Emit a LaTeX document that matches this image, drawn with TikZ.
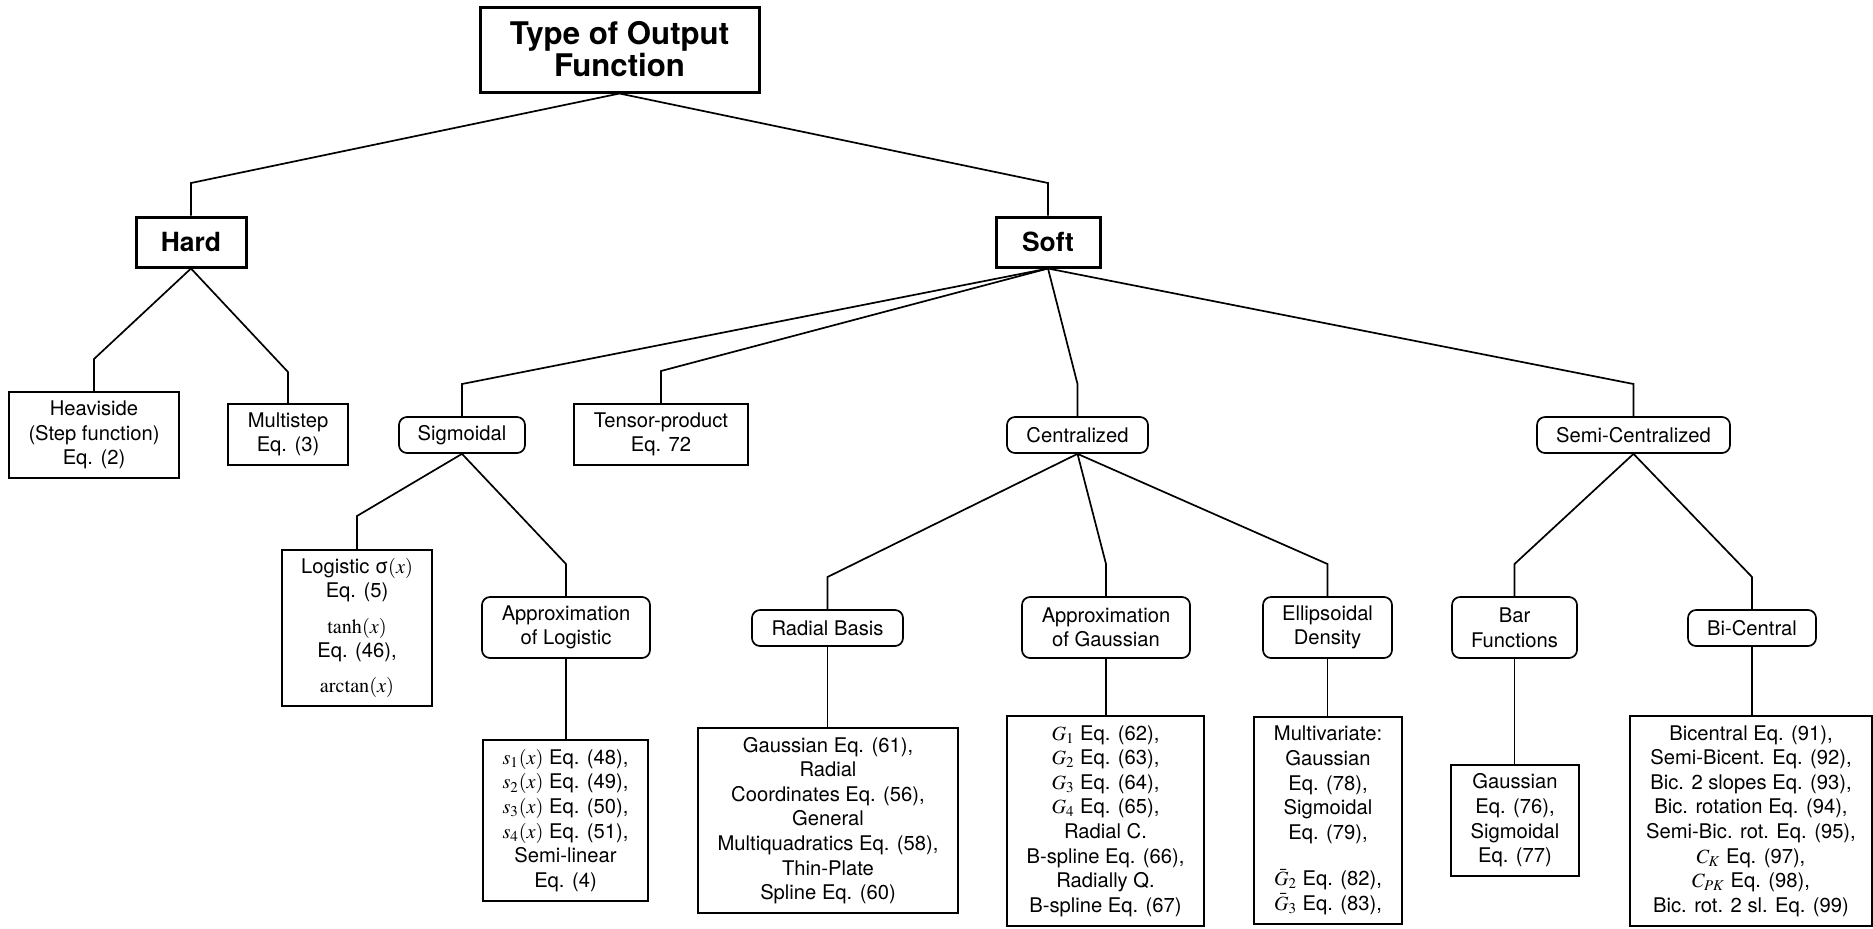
\documentclass[tikz,border=0pt]{standalone}
\usepackage{mathptmx}
\usepackage[no-math]{fontspec}
\setmainfont{TeX Gyre Heros}
\begin{document}
\begin{tikzpicture}[x=0.5pt,y=-0.5pt,
  conn/.style={line width=0.85pt},
  sq/.style={draw, line width=0.85pt, align=center, inner sep=2pt, font=\fontsize{10.1}{12.3}\selectfont},
  rnd/.style={sq, rounded corners=4pt},
  topbox/.style={draw, line width=1.5pt, align=center, inner sep=2pt, font=\fontsize{15.6}{15}\selectfont\bfseries},
  midbox/.style={draw, line width=1.5pt, inner sep=2pt, font=\fontsize{13.2}{15}\selectfont\bfseries}]
\useasboundingbox (0,0) rectangle (1873,928);

\node[topbox, minimum width=139.5pt, minimum height=42.5pt] (title) at (619.5,49.5) {Type of Output\\Function};
\node[midbox, minimum width=55pt, minimum height=25pt] (hard) at (191,242) {Hard};
\node[midbox, minimum width=52pt, minimum height=25pt] (soft) at (1048,242) {Soft};

\node[sq, minimum width=85pt, minimum height=43pt] (heav) at (94,435) {Heaviside\\(Step function)\\Eq. (2)};
\node[sq, minimum width=60pt, minimum height=30.5pt] (multi) at (288,434.5) {Multistep\\Eq. (3)};
\node[rnd, minimum width=63pt, minimum height=18pt] (sigm) at (462,435) {Sigmoidal};
\node[sq, minimum width=87pt, minimum height=30.5pt] (tensor) at (661,434.5) {Tensor-product\\Eq. 72};
\node[rnd, minimum width=70.5pt, minimum height=18pt] (central) at (1077.5,435) {Centralized};
\node[rnd, minimum width=96.5pt, minimum height=18pt] (semic) at (1633.5,435) {Semi-Centralized};

\node[sq, minimum width=75pt, minimum height=78pt] (logi) at (357,628) {Logistic σ$(x)$\\Eq. (5)\\[5.5pt]$\tanh(x)$\\Eq. (46),\\[5.2pt]$\arctan(x)$};
\node[rnd, minimum width=84pt, minimum height=30.5pt] (applog) at (566,627.5) {Approximation\\of Logistic};
\node[sq, minimum width=82.5pt, minimum height=80.5pt] (slist) at (565.5,820.5) {$s_1(x)$ Eq. (48),\\$s_2(x)$ Eq. (49),\\$s_3(x)$ Eq. (50),\\$s_4(x)$ Eq. (51),\\Semi-linear\\Eq. (4)};

\node[rnd, minimum width=75.5pt, minimum height=18pt] (radial) at (827.5,628) {Radial Basis};
\node[sq, minimum width=130pt, minimum height=92.5pt] (gausslist) at (828,820.5) {Gaussian Eq. (61),\\Radial\\Coordinates Eq. (56),\\General\\Multiquadratics Eq. (58),\\Thin-Plate\\Spline Eq. (60)};
\node[rnd, minimum width=84pt, minimum height=30.5pt] (appgau) at (1106,627.5) {Approximation\\of Gaussian};
\node[sq, minimum width=98.5pt, minimum height=105pt] (glist) at (1105.5,821) {$G_1$ Eq. (62),\\$G_2$ Eq. (63),\\$G_3$ Eq. (64),\\$G_4$ Eq. (65),\\Radial C.\\B-spline Eq. (66),\\Radially Q.\\B-spline Eq. (67)};
\node[rnd, minimum width=64.5pt, minimum height=30.5pt] (ellip) at (1327.5,627.5) {Ellipsoidal\\Density};
\node[sq, minimum width=74pt, minimum height=103.5pt] (mvlist) at (1328,820.5) {Multivariate:\\Gaussian\\Eq. (78),\\Sigmoidal\\Eq. (79),\\[11pt]$\bar{G}_2$ Eq. (82),\\$\bar{G}_3$ Eq. (83),};

\node[rnd, minimum width=62.5pt, minimum height=30.5pt] (bar) at (1514.5,627.5) {Bar\\Functions};
\node[sq, minimum width=64pt, minimum height=55.5pt] (barlist) at (1515,820.5) {Gaussian\\Eq. (76),\\Sigmoidal\\Eq. (77)};
\node[rnd, minimum width=64pt, minimum height=18pt] (bic) at (1752,628) {Bi-Central};
\node[sq, minimum width=121pt, minimum height=105pt] (biclist) at (1751,821) {Bicentral Eq. (91),\\Semi-Bicent. Eq. (92),\\Bic. 2 slopes Eq. (93),\\Bic. rotation Eq. (94),\\Semi-Bic. rot. Eq. (95),\\$C_K$ Eq. (97),\\$C_{PK}$ Eq. (98),\\Bic. rot. 2 sl. Eq. (99)};

\draw[conn] (title.south) -- (hard.north |- 0,183) -- (hard.north);
\draw[conn] (title.south) -- (soft.north |- 0,183) -- (soft.north);
\draw[conn] (hard.south) -- (heav.north |- 0,359) -- (heav.north);
\draw[conn] (hard.south) -- (multi.north |- 0,372) -- (multi.north);
\draw[conn] (soft.south) -- (sigm.north |- 0,384) -- (sigm.north);
\draw[conn] (soft.south) -- (tensor.north |- 0,371) -- (tensor.north);
\draw[conn] (soft.south) -- (central.north |- 0,384) -- (central.north);
\draw[conn] (soft.south) -- (semic.north |- 0,384) -- (semic.north);
\draw[conn] (sigm.south) -- (logi.north |- 0,516) -- (logi.north);
\draw[conn] (sigm.south) -- (applog.north |- 0,564) -- (applog.north);
\draw[conn] (applog.south) -- (slist.north -| applog.south);
\draw[conn] (central.south) -- (radial.north |- 0,577) -- (radial.north);
\draw[conn] (central.south) -- (appgau.north |- 0,564) -- (appgau.north);
\draw[conn] (central.south) -- (ellip.north |- 0,564) -- (ellip.north);
\draw[conn] (radial.south) -- (gausslist.north -| radial.south);
\draw[conn] (appgau.south) -- (glist.north -| appgau.south);
\draw[conn] (ellip.south) -- (mvlist.north -| ellip.south);
\draw[conn] (semic.south) -- (bar.north |- 0,564) -- (bar.north);
\draw[conn] (semic.south) -- (bic.north |- 0,577) -- (bic.north);
\draw[conn] (bar.south) -- (barlist.north -| bar.south);
\draw[conn] (bic.south) -- (biclist.north -| bic.south);
\end{tikzpicture}
\end{document}
